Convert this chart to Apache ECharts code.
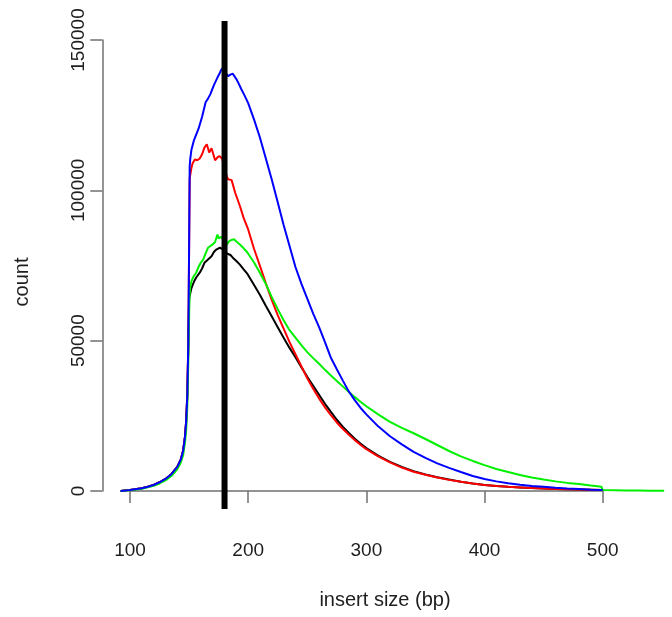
<!DOCTYPE html>
<html>
<head>
<meta charset="utf-8">
<script src="https://cdn.jsdelivr.net/npm/echarts@6/dist/echarts.min.js"></script>
<style>
html,body{margin:0;padding:0;background:#fff;}
#chart{width:672px;height:617px;}
</style>
</head>
<body>
<div id="chart"></div>
<script>
// ---- data ----
const xTicks = [100, 200, 300, 400, 500];
const yTicks = [0, 50000, 100000, 150000];
const xTitle = "insert size (bp)";
const yTitle = "count";
const refLineX = 180;
const refLineSpan = [-6000, 156300];
const plotXRange = [80, 555];

const riseX = [92,100,110,115,120,125,130,135,140,143,145,146.5,147.5,148.5,149.3];
const riseY = [0,300,900,1400,2000,2900,4000,5600,8000,10500,13500,18000,23000,32000,48000];

const blueX = riseX.concat([150,150.5,151,152,154,156,158,161,164,166,168,171,174,176,177,178,179,
  181,183,185,187,190,192,194,197,200,
  205,210,215,220,225,230,235,240,245,250,255,260,265,270,275,280,285,290,295,300,
  310,320,330,340,350,360,370,380,390,400,410,420,430,440,450,460,470,480,490,500]);
const blueY = riseY.concat([80000,108000,110500,113500,116500,118500,120500,124500,129300,130500,132000,135000,137500,139000,140000,140300,140800,
  139000,138000,138500,138800,137000,135500,133800,131500,129000,
  123500,117500,110500,103500,96000,88500,81500,74500,69000,64000,59000,54500,49500,44300,40500,36800,33200,30300,27700,25500,
  21500,18200,15500,13000,11000,9200,7700,6300,5000,4000,3200,2600,2100,1700,1400,1100,850,650,450,330]);

const redX = riseX.concat([150,150.5,152,153,155,157,159,161,163,165,166,167,169,170,172,174,176,178,
  182,183,186,189,193,196,200,
  205,210,215,220,225,230,235,240,245,250,255,260,265,270,275,280,285,290,295,300,
  310,320,330,340,350,360,370,380,390,400,410,420,430,440,450,460,470,480,490,500]);
const redY = riseY.concat([80000,104000,107500,109000,110300,110000,110600,112000,114200,115300,114000,112600,114000,113700,110000,111000,111400,110500,
  104500,103700,103400,99200,94800,91000,87000,
  80500,74800,69000,63500,58500,54000,49500,45500,41500,37500,34000,30800,27800,25200,22800,20700,18800,17000,15400,13900,
  11500,9500,7800,6400,5400,4500,3700,3100,2500,2000,1650,1400,1200,1000,850,700,600,500,400,300]);

const blackX = riseX.concat([150,152,154,156,159,161,163,166,169,171,173,176,178,
  182,185,187,190,193,196,199,
  205,210,215,220,225,230,235,240,245,250,255,260,265,270,275,280,285,290,295,300,
  310,320,330,340,350,360,370,380,390,400,410,420,430,440,450,460,470,480,490,500]);
const blackY = riseY.concat([64000,67500,69500,71000,72600,74000,75900,77000,78100,79500,80300,80900,80500,
  79000,78500,77600,76500,75300,73800,72400,
  68500,65200,61500,58000,54500,51000,47600,44500,41200,38000,35000,32000,29000,26300,23700,21400,19400,17500,15800,14300,
  11800,9700,8000,6600,5500,4600,3800,3100,2500,2000,1650,1400,1200,1000,850,700,600,500,400,300]);

const greenX = [92,100,110,115,120,125,130,135,140,143,145,146.5,147.5,148.5,149.3,150,150.5,
  151,152,154,156,158,160,162,164,166,168,170,172,174,175,177,178,
  182,184,186,188,190,193,196,199,
  205,210,215,220,225,230,235,240,245,250,255,260,265,270,275,280,285,290,295,300,
  310,320,330,340,350,360,370,380,390,400,410,420,430,440,450,460,470,480,490,499,
  500,510,520,530,540,552];
const greenY = [0,250,750,1200,1700,2500,3500,5000,7200,9500,12000,16000,20000,28000,42000,58000,65500,
  68000,69800,71500,72600,74500,76000,77000,79000,80900,81500,82000,82800,85300,84000,84500,85000,
  82000,83100,83500,83700,83000,82000,80800,79500,
  76000,72500,68800,64500,60500,56800,53500,51000,48500,46200,44200,42300,40300,38400,36600,34800,33000,31300,29700,28200,
  25500,23000,21000,19200,17300,15300,13300,11500,10000,8600,7300,6300,5300,4500,3800,3200,2700,2300,1800,1400,
  300,250,200,160,120,80];

const zip = (xs, ys) => xs.map((x, i) => [x, ys[i]]);

const chart = echarts.init(document.getElementById('chart'), null, {renderer: 'canvas'});
const axisCol = '#707070';
const textCol = '#1e1e1e';
const font = 'Liberation Sans, Arial, Helvetica, sans-serif';

// pixel layout: x=100 at 130px, x=500 at 602.7px
const axLeft = 130, axRight = 672 - 602.7;
const pxPerUnit = (602.7 - 130) / 400;
const mainLeft = axLeft - (xTicks[0] - plotXRange[0]) * pxPerUnit;
const mainRight = 672 - (axLeft + (plotXRange[1] - xTicks[0]) * pxPerUnit);

function lineSeries(name, xs, ys, color, z) {
  return {
    name, type: 'line', data: zip(xs, ys), showSymbol: false, symbol: 'none',
    xAxisIndex: 0, yAxisIndex: 0,
    clip: false, animation: false, z: z || 2,
    lineStyle: {color, width: 2}, itemStyle: {color}
  };
}

chart.setOption({
  animation: false,
  backgroundColor: '#ffffff',
  grid: [
    {left: mainLeft, right: mainRight, top: 40, bottom: 126},
    {left: axLeft, right: axRight, top: 40, bottom: 126}
  ],
  xAxis: [
    {type: 'value', gridIndex: 0, min: plotXRange[0], max: plotXRange[1], show: false},
    {
      type: 'value', gridIndex: 1, min: xTicks[0], max: xTicks[xTicks.length - 1], interval: 100,
      offset: 18,
      axisLine: {show: true, lineStyle: {color: axisCol, width: 1.5}},
      axisTick: {show: true, length: 12, lineStyle: {color: axisCol, width: 1.5}},
      axisLabel: {color: textCol, fontSize: 19, fontFamily: font, margin: 32},
      splitLine: {show: false}
    }
  ],
  yAxis: [
    {type: 'value', gridIndex: 0, min: yTicks[0], max: yTicks[yTicks.length - 1], show: false},
    {
      type: 'value', gridIndex: 1, min: yTicks[0], max: yTicks[yTicks.length - 1], interval: 50000,
      offset: 27.7,
      axisLine: {show: true, lineStyle: {color: axisCol, width: 1.5}},
      axisTick: {show: true, length: 12, lineStyle: {color: axisCol, width: 1.5}},
      axisLabel: {color: textCol, fontSize: 19, fontFamily: font, margin: 14, rotate: 90,
        formatter: v => String(v)},
      splitLine: {show: false}
    }
  ],
  graphic: [
    {type: 'text', position: [385, 600],
      style: {text: xTitle, fill: textCol, font: '20px ' + font, textAlign: 'center', textVerticalAlign: 'middle'}},
    {type: 'text', rotation: Math.PI / 2, position: [22, 282],
      style: {text: yTitle, fill: textCol, font: '20px ' + font, textAlign: 'center', textVerticalAlign: 'middle'}}
  ],
  series: [
    lineSeries('black', blackX, blackY, '#000000', 2),
    lineSeries('red', redX, redY, '#ff0000', 3),
    lineSeries('green', greenX, greenY, '#00f000', 4),
    lineSeries('blue', blueX, blueY, '#0000ff', 5),
    {
      name: 'ref', type: 'line', symbol: 'none', clip: false, z: 10, animation: false,
      xAxisIndex: 0, yAxisIndex: 0,
      data: [[refLineX, refLineSpan[0]], [refLineX, refLineSpan[1]]],
      lineStyle: {color: '#000000', width: 6}
    }
  ]
});
</script>
</body>
</html>
